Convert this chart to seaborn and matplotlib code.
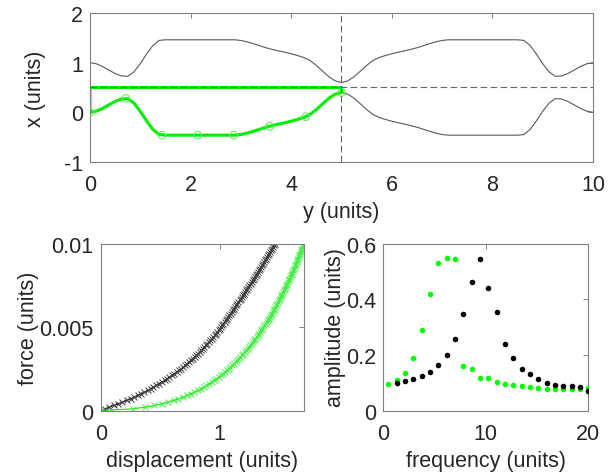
import numpy as np
import matplotlib
matplotlib.use("Agg")
import matplotlib.pyplot as plt
import seaborn as sns

# --- channel walls, sampled along y every 0.125 units (0..10)
wall_y = np.linspace(0, 10, 81)
wall_lower = [0.000, 0.023, 0.079, 0.150, 0.220, 0.268, 0.275, 0.184, 0.020, -0.173, -0.344, -0.448,
              -0.460, -0.460, -0.460, -0.460, -0.460, -0.460, -0.460, -0.460, -0.460, -0.460, -0.460, -0.460,
              -0.447, -0.419, -0.382, -0.340, -0.300, -0.266, -0.237, -0.209, -0.179, -0.144, -0.103, -0.043,
              0.056, 0.172, 0.284, 0.367, 0.400,
              0.367, 0.284, 0.172, 0.056, -0.043, -0.103, -0.144, -0.179, -0.209, -0.237, -0.266, -0.300,
              -0.340, -0.382, -0.419, -0.447,
              -0.460, -0.460, -0.460, -0.460, -0.460, -0.460, -0.460, -0.460, -0.460, -0.460, -0.460, -0.460,
              -0.448, -0.344, -0.173, 0.020, 0.184, 0.275, 0.268, 0.220, 0.150, 0.079, 0.023, 0.000]
wall_upper = [1.000, 0.977, 0.921, 0.850, 0.780, 0.732, 0.725, 0.816, 0.980, 1.173, 1.344, 1.448,
              1.460, 1.460, 1.460, 1.460, 1.460, 1.460, 1.460, 1.460, 1.460, 1.460, 1.460, 1.460,
              1.447, 1.419, 1.382, 1.340, 1.300, 1.266, 1.237, 1.209, 1.179, 1.144, 1.103, 1.043,
              0.944, 0.828, 0.716, 0.633, 0.600,
              0.633, 0.716, 0.828, 0.944, 1.043, 1.103, 1.144, 1.179, 1.209, 1.237, 1.266, 1.300,
              1.340, 1.382, 1.419, 1.447,
              1.460, 1.460, 1.460, 1.460, 1.460, 1.460, 1.460, 1.460, 1.460, 1.460, 1.460, 1.460,
              1.448, 1.344, 1.173, 0.980, 0.816, 0.725, 0.732, 0.780, 0.850, 0.921, 0.977, 1.000]

# green control points and the closing box of the green outline
knot_y = [0.0, 0.714, 1.429, 2.143, 2.857, 3.571, 4.286, 5.0]
knot_x = [0.0, 0.28, -0.46, -0.46, -0.46, -0.28, -0.09, 0.40]
box_y = [5.0, 5.0, 0.0, 0.0]
box_x = [0.40, 0.50, 0.50, 0.0]
mid_x = 0.5
mid_y = 5.0

# --- force vs displacement
force = np.linspace(0, 0.01, 101)
disp_black = [0.000, 0.037, 0.074, 0.111, 0.147, 0.182, 0.217, 0.252, 0.283, 0.311, 0.339, 0.367, 0.395,
              0.420, 0.443, 0.467, 0.490, 0.513, 0.537, 0.558, 0.578, 0.598, 0.618, 0.638, 0.658, 0.678,
              0.695, 0.711, 0.726, 0.742, 0.758, 0.773, 0.789, 0.804, 0.820, 0.834, 0.846, 0.859, 0.872,
              0.885, 0.897, 0.910, 0.923, 0.935, 0.948, 0.961, 0.972, 0.982, 0.992, 1.002, 1.012, 1.022,
              1.032, 1.042, 1.052, 1.062, 1.072, 1.082, 1.092, 1.102, 1.112, 1.121, 1.130, 1.140, 1.149,
              1.158, 1.168, 1.177, 1.186, 1.196, 1.205, 1.214, 1.224, 1.233, 1.242, 1.251, 1.260, 1.269,
              1.278, 1.287, 1.295, 1.304, 1.313, 1.322, 1.330, 1.339, 1.348, 1.357, 1.366, 1.375, 1.383,
              1.392, 1.399, 1.407, 1.415, 1.423, 1.431, 1.439, 1.446, 1.454, 1.462]
disp_green = [0.000, 0.269, 0.374, 0.451, 0.513, 0.566, 0.613, 0.654, 0.692, 0.726, 0.758, 0.788, 0.815,
              0.841, 0.866, 0.889, 0.912, 0.933, 0.953, 0.973, 0.992, 1.010, 1.027, 1.044, 1.060, 1.076,
              1.091, 1.106, 1.121, 1.135, 1.148, 1.162, 1.175, 1.187, 1.200, 1.212, 1.224, 1.235, 1.247,
              1.258, 1.269, 1.280, 1.290, 1.301, 1.311, 1.321, 1.330, 1.340, 1.350, 1.359, 1.368, 1.377,
              1.386, 1.395, 1.403, 1.412, 1.420, 1.429, 1.437, 1.445, 1.453, 1.461, 1.468, 1.476, 1.483,
              1.491, 1.498, 1.506, 1.513, 1.520, 1.527, 1.534, 1.541, 1.548, 1.554, 1.561, 1.568, 1.574,
              1.581, 1.587, 1.593, 1.600, 1.606, 1.612, 1.618, 1.624, 1.630, 1.636, 1.642, 1.648, 1.654,
              1.659, 1.665, 1.671, 1.676, 1.682, 1.687, 1.693, 1.698, 1.704, 1.709]

# --- amplitude vs frequency
freq_green = [0.5, 1.31, 2.13, 2.94, 3.75, 4.56, 5.38, 6.19, 7.0, 7.81, 8.63, 9.44, 10.25,
              11.06, 11.88, 12.69, 13.5, 14.31, 15.13, 15.94, 16.75, 17.56, 18.38, 19.19, 20.0]
amp_green = [0.097, 0.111, 0.136, 0.190, 0.290, 0.420, 0.530, 0.548, 0.543, 0.161, 0.148, 0.117, 0.117,
             0.102, 0.094, 0.092, 0.089, 0.086, 0.081, 0.079, 0.078, 0.078, 0.078, 0.079, 0.080]
freq_black = [1.31, 2.13, 2.94, 3.75, 4.56, 5.38, 6.19, 7.0, 7.81, 8.63, 9.44, 10.25,
              11.06, 11.88, 12.69, 13.5, 14.31, 15.13, 15.94, 16.75, 17.56, 18.38, 19.19, 20.0]
amp_black = [0.100, 0.105, 0.112, 0.123, 0.138, 0.163, 0.199, 0.257, 0.348, 0.463, 0.543, 0.439,
             0.355, 0.239, 0.188, 0.150, 0.130, 0.114, 0.100, 0.090, 0.089, 0.087, 0.085, 0.069]

sns.set_style("white")
plt.rcParams['font.family'] = ['Liberation Sans', 'DejaVu Sans']
plt.rcParams['axes.unicode_minus'] = False

green = '#00ee00'
text_col = '#262626'
frame_col = '0.5'

fig = plt.figure(figsize=(6.11, 4.77), dpi=100)
ax_top = fig.add_axes([0.1473, 0.6583, 0.8232, 0.3124])
ax_fd = fig.add_axes([0.1648, 0.1373, 0.3327, 0.3501])
ax_amp = fig.add_axes([0.6273, 0.1373, 0.3355, 0.3501])

# top: channel
sns.lineplot(x=wall_y, y=wall_upper, color='0.35', linewidth=0.8, ax=ax_top)
sns.lineplot(x=wall_y, y=wall_lower, color='0.35', linewidth=0.8, ax=ax_top)
outline_y = list(wall_y[:41]) + box_y
outline_x = list(wall_lower[:41]) + box_x
sns.lineplot(x=outline_y, y=outline_x, sort=False, estimator=None, color=green,
             linewidth=2.2, ax=ax_top)
ax_top.scatter(knot_y, knot_x, s=30, facecolors='none', edgecolors='#66f066', linewidths=0.8, zorder=5)
ax_top.axhline(mid_x, color='0.4', linewidth=0.8, dashes=(6, 3), zorder=6)
ax_top.axvline(mid_y, color='0.4', linewidth=0.8, dashes=(6, 3), zorder=6)
ax_top.set_xlim(0, 10)
ax_top.set_ylim(-1, 2)
ax_top.set_xticks([0, 2, 4, 6, 8, 10])
ax_top.set_yticks([-1, 0, 1, 2])
ax_top.set_xlabel('y (units)', labelpad=4)
ax_top.set_ylabel('x (units)', labelpad=13)

# bottom left: force vs displacement
sns.lineplot(x=disp_black, y=force, sort=False, estimator=None, color='k', linewidth=0.8, marker='x',
             markersize=5, markeredgecolor='0.25', markeredgewidth=0.7, ax=ax_fd)
sns.lineplot(x=disp_green, y=force, sort=False, estimator=None, color=green, linewidth=0.8, marker='x',
             markersize=5, markeredgecolor='#44ee44', markeredgewidth=0.7, ax=ax_fd)
ax_fd.set_xlim(0, 1.709)
ax_fd.set_ylim(0, 0.01)
ax_fd.set_xticks([0, 1])
ax_fd.set_yticks([0, 0.005, 0.01])
ax_fd.set_yticklabels(['0', '0.005', '0.01'])
ax_fd.set_xlabel('displacement (units)', labelpad=4)
ax_fd.set_ylabel('force (units)', labelpad=0)

# bottom right: amplitude vs frequency
sns.scatterplot(x=freq_green, y=amp_green, color='#00ff00', s=16, linewidth=0, ax=ax_amp, zorder=3)
sns.scatterplot(x=freq_black, y=amp_black, color='k', s=16, linewidth=0, ax=ax_amp, zorder=3)
ax_amp.set_xlim(0, 20)
ax_amp.set_ylim(0, 0.6)
ax_amp.set_xticks([0, 10, 20])
ax_amp.set_yticks([0, 0.2, 0.4, 0.6])
ax_amp.set_yticklabels(['0', '0.2', '0.4', '0.6'])
ax_amp.set_xlabel('frequency (units)', labelpad=4)
ax_amp.set_ylabel('amplitude (units)', labelpad=0)

for ax in (ax_top, ax_fd, ax_amp):
    for sp in ax.spines.values():
        sp.set_visible(True)
        sp.set_color(frame_col)
        sp.set_linewidth(0.8)
    ax.tick_params(direction='in', length=3.5, width=0.7, color=frame_col,
                   top=True, right=True, labelsize=15.5, labelcolor=text_col)
    ax.tick_params(axis='x', pad=9)
    ax.tick_params(axis='y', pad=5)
    ax.xaxis.label.set_size(15.5)
    ax.yaxis.label.set_size(15.5)
    ax.xaxis.label.set_color(text_col)
    ax.yaxis.label.set_color(text_col)

fig.savefig('out.png', dpi=100)
